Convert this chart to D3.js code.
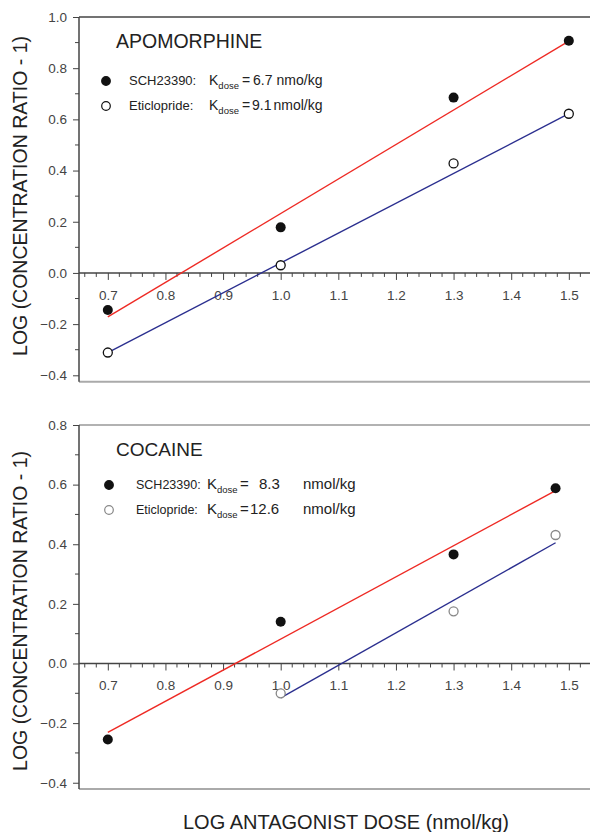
<!DOCTYPE html>
<html>
<head>
<meta charset="utf-8">
<script src="https://cdn.jsdelivr.net/npm/d3@7"></script>
<style>
  body { margin: 0; background: #fff; }
  text { font-family: "Liberation Sans", Arial, sans-serif; }
</style>
</head>
<body>
<div id="chart"></div>
<script>
// data
const apoDoses = [0.7, 1.0, 1.3, 1.5];
const apoSch = [-0.145, 0.178, 0.685, 0.907];
const apoEti = [-0.311, 0.030, 0.428, 0.622];
const apoSchFit = [[0.7, -0.172], [1.5, 0.906]];
const apoEtiFit = [[0.7, -0.311], [1.5, 0.622]];

const cocDoses = [0.7, 1.0, 1.3, 1.477];
const cocSch = [-0.255, 0.140, 0.366, 0.588];
const cocEtiDoses = [1.0, 1.3, 1.477];
const cocEti = [-0.100, 0.175, 0.431];
const cocSchFit = [[0.7, -0.231], [1.477, 0.580]];
const cocEtiFit = [[1.0, -0.115], [1.477, 0.405]];

const xTicks = [0.7, 0.8, 0.9, 1.0, 1.1, 1.2, 1.3, 1.4, 1.5];
const apoYTicks = [-0.4, -0.2, 0.0, 0.2, 0.4, 0.6, 0.8, 1.0];
const cocYTicks = [-0.4, -0.2, 0.0, 0.2, 0.4, 0.6, 0.8];

const width = 590, height = 832;

const svg = d3.select('div#chart').append('svg')
  .attr('width', width)
  .attr('height', height);

const xScale = d3.scaleLinear()
  .domain([0.65, 1.535])
  .range([79, 589]);

const drawPanel = (cfg) => {
  const y = d3.scaleLinear().domain(cfg.yDomain).range(cfg.yRange);
  const g = svg.append('g');
  const left = xScale.range()[0], right = width;

  // frame: top and bottom
  g.append('line')
    .attr('x1', left).attr('x2', right)
    .attr('y1', y(cfg.yDomain[1])).attr('y2', y(cfg.yDomain[1]))
    .attr('stroke', cfg.topColor).attr('stroke-width', 1.5);
  g.append('line')
    .attr('x1', left).attr('x2', right)
    .attr('y1', y(cfg.yDomain[0])).attr('y2', y(cfg.yDomain[0]))
    .attr('stroke', '#aaa').attr('stroke-width', 2);

  // y axis
  const yAxis = d3.axisLeft(y)
    .tickValues(cfg.yTicks)
    .tickFormat(d3.format('.1f'))
    .tickSize(6)
    .tickPadding(6);
  const ya = g.append('g')
    .attr('transform', 'translate(' + left + ',0)')
    .call(yAxis);
  ya.select('.domain').remove();
  ya.selectAll('line').attr('stroke', '#444');
  ya.selectAll('text')
    .attr('font-size', 13.5)
    .attr('fill', '#444');
  g.append('line')
    .attr('x1', left).attr('x2', left)
    .attr('y1', y(cfg.yDomain[1])).attr('y2', y(cfg.yDomain[0]))
    .attr('stroke', '#444').attr('stroke-width', 1.5);

  // minor y ticks at odd tenths
  const yMinor = cfg.yTicks.slice(0, -1).map(d => d + 0.1);
  g.selectAll('.yminor').data(yMinor).join('line')
    .attr('x1', left - 4).attr('x2', left)
    .attr('y1', d => y(d)).attr('y2', d => y(d))
    .attr('stroke', '#444');

  // x axis on y = 0
  const xAxis = d3.axisBottom(xScale)
    .tickValues(xTicks)
    .tickFormat(d3.format('.1f'))
    .tickSize(7)
    .tickPadding(10);
  const xa = g.append('g')
    .attr('transform', 'translate(0,' + y(0) + ')')
    .call(xAxis);
  xa.select('.domain').remove();
  xa.selectAll('line').attr('stroke', '#444');
  xa.selectAll('text')
    .attr('font-size', 13.5)
    .attr('fill', '#444');
  g.append('line')
    .attr('x1', left).attr('x2', right)
    .attr('y1', y(0)).attr('y2', y(0))
    .attr('stroke', '#444').attr('stroke-width', 1.5);
  const xMinor = d3.range(33, 77).map(i => i * 0.02).filter(d => Math.abs(d * 10 - Math.round(d * 10)) > 0.01);
  g.selectAll('.xminor').data(xMinor).join('line')
    .attr('x1', d => xScale(d)).attr('x2', d => xScale(d))
    .attr('y1', y(0)).attr('y2', y(0) + 4)
    .attr('stroke', '#444');

  // fit lines
  const line = d3.line().x(d => xScale(d[0])).y(d => y(d[1]));
  g.append('path').datum(cfg.schFit)
    .attr('d', line).attr('fill', 'none')
    .attr('stroke', '#ee2a24').attr('stroke-width', 1.4);
  g.append('path').datum(cfg.etiFit)
    .attr('d', line).attr('fill', 'none')
    .attr('stroke', '#2b2f8f').attr('stroke-width', 1.4);

  // points
  g.selectAll('.sch').data(cfg.schX).join('circle')
    .attr('cx', d => xScale(d))
    .attr('cy', (d, i) => y(cfg.sch[i]))
    .attr('r', 5)
    .attr('fill', '#111');
  g.selectAll('.eti').data(cfg.etiX).join('circle')
    .attr('cx', d => xScale(d))
    .attr('cy', (d, i) => y(cfg.eti[i]))
    .attr('r', 4.5)
    .attr('fill', '#fff')
    .attr('stroke', cfg.openColor)
    .attr('stroke-width', 1.3);

  // title and legend
  g.append('text')
    .attr('x', 116).attr('y', cfg.titleY)
    .attr('font-size', cfg.titleSize)
    .attr('fill', '#222')
    .text(cfg.title);

  cfg.legend.forEach((row, i) => {
    const ly = cfg.legendY + i * 25;
    const lx = cfg.lx;
    g.append('circle')
      .attr('cx', lx.dot).attr('cy', ly - 4)
      .attr('r', 4.3)
      .attr('fill', i === 0 ? '#111' : '#fff')
      .attr('stroke', i === 0 ? '#111' : cfg.openColor)
      .attr('stroke-width', 1.2);
    g.append('text')
      .attr('x', lx.name).attr('y', ly)
      .attr('font-size', cfg.nameSize)
      .attr('fill', '#222')
      .text(row.name);
    const t = g.append('text')
      .attr('x', lx.k).attr('y', ly)
      .attr('font-size', cfg.valueSize)
      .attr('fill', '#222');
    t.append('tspan').text('K');
    t.append('tspan').attr('dy', 4).attr('font-size', 9.5).text('dose');
    g.append('text')
      .attr('x', lx.eq).attr('y', ly)
      .attr('font-size', cfg.valueSize)
      .attr('fill', '#222')
      .text('=');
    g.append('text')
      .attr('x', row.numX).attr('y', ly)
      .attr('font-size', cfg.valueSize)
      .attr('fill', '#222')
      .text(row.value);
    g.append('text')
      .attr('x', lx.unitEnd).attr('y', ly)
      .attr('text-anchor', 'end')
      .attr('font-size', cfg.valueSize)
      .attr('fill', '#222')
      .text(row.unit);
  });
};

drawPanel({
  title: 'APOMORPHINE', titleY: 48, titleSize: 19.5,
  yDomain: [-0.425, 1.0], yRange: [381.7, 17], yTicks: apoYTicks,
  topColor: '#444', openColor: '#111',
  schX: apoDoses, sch: apoSch, etiX: apoDoses, eti: apoEti,
  schFit: apoSchFit, etiFit: apoEtiFit,
  legendY: 85, nameSize: 13, valueSize: 14,
  lx: { dot: 106, name: 129, k: 209, eq: 242, unitEnd: 322.5 },
  legend: [
    { name: 'SCH23390:', value: '6.7', numX: 253, unit: 'nmo/kg' },
    { name: 'Eticlopride:', value: '9.1', numX: 252, unit: 'nmol/kg' }
  ]
});

drawPanel({
  title: 'COCAINE', titleY: 456, titleSize: 19,
  yDomain: [-0.421, 0.8], yRange: [789, 425], yTicks: cocYTicks,
  topColor: '#999', openColor: '#888',
  schX: cocDoses, sch: cocSch, etiX: cocEtiDoses, eti: cocEti,
  schFit: cocSchFit, etiFit: cocEtiFit,
  legendY: 489, nameSize: 12.5, valueSize: 15,
  lx: { dot: 109, name: 136, k: 207, eq: 240, unitEnd: 355.5 },
  legend: [
    { name: 'SCH23390:', value: '8.3', numX: 259, unit: 'nmol/kg' },
    { name: 'Eticlopride:', value: '12.6', numX: 250, unit: 'nmol/kg' }
  ]
});

// axis titles
const yTitle = 'LOG (CONCENTRATION RATIO - 1)';
[196, 611].forEach(cy => {
  svg.append('text')
    .attr('transform', 'translate(27,' + cy + ') rotate(-90)')
    .attr('text-anchor', 'middle')
    .attr('font-size', 19.5)
    .attr('fill', '#222')
    .text(yTitle);
});
svg.append('text')
  .attr('x', 346).attr('y', 829)
  .attr('text-anchor', 'middle')
  .attr('font-size', 20)
  .attr('fill', '#222')
  .text('LOG ANTAGONIST DOSE (nmol/kg)');
</script>
</body>
</html>
